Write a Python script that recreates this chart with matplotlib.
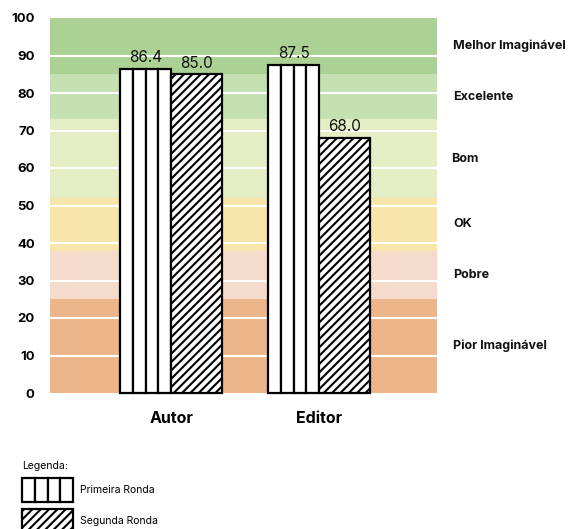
import matplotlib
matplotlib.use('Agg')
import matplotlib.pyplot as plt
from matplotlib.patches import Patch, Rectangle
from matplotlib.legend_handler import HandlerBase

plt.rcParams['font.family'] = ['Inter', 'DejaVu Sans']
plt.rcParams['hatch.linewidth'] = 1.5

categories = ['Autor', 'Editor']
primeira = [86.4, 87.5]
segunda = [85.0, 68.0]

band_edges = [0, 25, 38, 52, 73, 85, 100]
band_names = ['Pior Imaginável', 'Pobre', 'OK', 'Bom', 'Excelente', 'Melhor Imaginável']
band_colors = ['#ecb68a', '#f5dbcb', '#f8e5a9', '#e4edc4', '#c5e1b1', '#acd194']


class SplitHandler(HandlerBase):
    # legend box drawn as 4 side by side rectangles, like the bars
    def create_artists(self, legend, orig_handle, xdescent, ydescent, width, height, fontsize, trans):
        arts = []
        for k in range(4):
            arts.append(Rectangle((-xdescent + k * width / 4, -ydescent), width / 4, height,
                                  facecolor='white', edgecolor='black', lw=1.6, transform=trans))
        return arts


fig = plt.figure(figsize=(5.7, 5.29), dpi=100)
ax = fig.add_axes([50/570, 136/529, 387/570, 375/529])

# background bands
for i in range(len(band_names)):
    ax.axhspan(band_edges[i], band_edges[i+1], color=band_colors[i], lw=0, zorder=0)
    mid = (band_edges[i] + band_edges[i+1]) / 2
    xoff = 1.037 if band_names[i] == 'Bom' else 1.042
    ax.text(xoff, mid, band_names[i], transform=ax.get_yaxis_transform(),
            fontsize=9, fontweight='bold', va='center', ha='left', color='#111111')

for v in range(10, 100, 10):
    ax.axhline(v, color='white', lw=1.5, zorder=1)

w = 0.345
nseg = 4
for i, cat in enumerate(categories):
    # first round: bar split in 4 vertical segments
    for s in range(nseg):
        ax.bar(i - w + s * w / nseg, primeira[i], width=w / nseg, align='edge',
               color='white', edgecolor='black', lw=1.6, zorder=3, clip_on=False)
    ax.text(i - w / 2, primeira[i] + 1, '%.1f' % primeira[i], ha='center', va='bottom',
            fontsize=11, color='#111111')
    # second round: hatched
    ax.bar(i, segunda[i], width=w, align='edge', color='white', edgecolor='black',
           hatch='////', lw=1.6, zorder=3, clip_on=False)
    ax.text(i + w / 2, segunda[i] + 1, '%.1f' % segunda[i], ha='center', va='bottom',
            fontsize=11, color='#111111')

ax.set_xlim(-0.818, 1.797)
ax.set_ylim(0, 100)
ax.set_yticks(range(0, 101, 10))
ax.set_xticks(range(len(categories)))
ax.set_xticklabels(categories, fontsize=11.5, fontweight='bold')
for lab in ax.get_yticklabels():
    lab.set_fontweight('bold')
    lab.set_fontsize(9.5)
ax.tick_params(axis='y', length=0, pad=11)
ax.tick_params(axis='x', length=0, pad=13)
for sp in ax.spines.values():
    sp.set_visible(False)

h1 = Patch(facecolor='white', edgecolor='black')
h2 = Patch(facecolor='white', edgecolor='black', hatch='////', lw=1.6)
leg = fig.legend([h1, h2], ['Primeira Ronda', 'Segunda Ronda'], title='Legenda:',
                 handler_map={h1: SplitHandler()},
                 loc='upper left', bbox_to_anchor=(22/570, 1 - 461/529),
                 frameon=False, fontsize=7.5, title_fontsize=7.5, alignment='left',
                 handlelength=4.9, handleheight=3.17, labelspacing=0.68,
                 handletextpad=0.65, borderpad=0, borderaxespad=0)

fig.savefig('out.png', dpi=100)
